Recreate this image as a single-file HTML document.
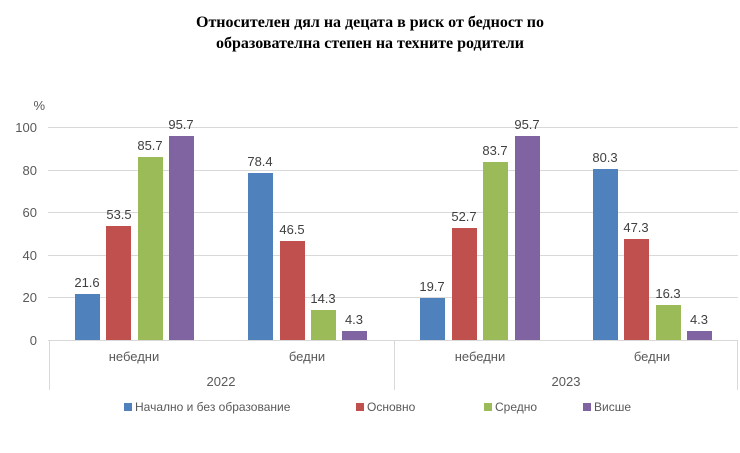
<!DOCTYPE html>
<html><head><meta charset="utf-8"><style>body{margin:0;background:#fff}svg{display:block}</style></head><body>
<svg width="740" height="453" xmlns="http://www.w3.org/2000/svg">
<rect width="740" height="453" fill="#fff"/>
<text x="370" y="27" text-anchor="middle" font-family="Liberation Serif, serif" font-weight="bold" font-size="16" fill="#000">Относителен дял на децата в риск от бедност по</text>
<text x="370" y="48" text-anchor="middle" font-family="Liberation Serif, serif" font-weight="bold" font-size="16" fill="#000">образователна степен на техните родители</text>
<g stroke="#d9d9d9" stroke-width="1">
<line x1="48" y1="127.5" x2="738" y2="127.5"/>
<line x1="48" y1="170.5" x2="738" y2="170.5"/>
<line x1="48" y1="212.5" x2="738" y2="212.5"/>
<line x1="48" y1="255.5" x2="738" y2="255.5"/>
<line x1="48" y1="297.5" x2="738" y2="297.5"/>
<line x1="48" y1="340.5" x2="738" y2="340.5"/>
<line x1="49.5" y1="340" x2="49.5" y2="390"/>
<line x1="394.5" y1="340" x2="394.5" y2="390"/>
<line x1="737.5" y1="340" x2="737.5" y2="390"/>
</g>
<g font-family="Liberation Sans, sans-serif" font-size="13" fill="#595959" text-anchor="end">
<text x="37" y="132">100</text><text x="37" y="175">80</text><text x="37" y="217">60</text>
<text x="37" y="260">40</text><text x="37" y="302">20</text><text x="37" y="345">0</text>
<text x="45" y="110">%</text>
</g>
<g>
<rect x="75" y="294" width="25" height="46" fill="#4F81BD"/>
<rect x="106" y="226" width="25" height="114" fill="#C0504D"/>
<rect x="138" y="157" width="25" height="183" fill="#9BBB59"/>
<rect x="169" y="136" width="25" height="204" fill="#8064A2"/>
<rect x="248" y="173" width="25" height="167" fill="#4F81BD"/>
<rect x="280" y="241" width="25" height="99" fill="#C0504D"/>
<rect x="311" y="310" width="25" height="30" fill="#9BBB59"/>
<rect x="342" y="331" width="25" height="9" fill="#8064A2"/>
<rect x="420" y="298" width="25" height="42" fill="#4F81BD"/>
<rect x="452" y="228" width="25" height="112" fill="#C0504D"/>
<rect x="483" y="162" width="25" height="178" fill="#9BBB59"/>
<rect x="515" y="136" width="25" height="204" fill="#8064A2"/>
<rect x="593" y="169" width="25" height="171" fill="#4F81BD"/>
<rect x="624" y="239" width="25" height="101" fill="#C0504D"/>
<rect x="656" y="305" width="25" height="35" fill="#9BBB59"/>
<rect x="687" y="331" width="25" height="9" fill="#8064A2"/>
</g>
<g font-family="Liberation Sans, sans-serif" font-size="13" fill="#404040" text-anchor="middle">
<text x="87" y="287">21.6</text><text x="119" y="219">53.5</text><text x="150" y="150">85.7</text><text x="181" y="129">95.7</text>
<text x="260" y="166">78.4</text><text x="292" y="234">46.5</text><text x="323" y="303">14.3</text><text x="354" y="324">4.3</text>
<text x="432" y="291">19.7</text><text x="464" y="221">52.7</text><text x="495" y="155">83.7</text><text x="527" y="129">95.7</text>
<text x="605" y="162">80.3</text><text x="636" y="232">47.3</text><text x="668" y="298">16.3</text><text x="699" y="324">4.3</text>
</g>
<g font-family="Liberation Sans, sans-serif" font-size="13" fill="#595959" text-anchor="middle">
<text x="134" y="361">небедни</text><text x="307" y="361">бедни</text>
<text x="480" y="361">небедни</text><text x="652" y="361">бедни</text>
<text x="221" y="386">2022</text><text x="566" y="386">2023</text>
</g>
<g font-family="Liberation Sans, sans-serif" font-size="12" fill="#595959">
<rect x="124" y="403" width="8" height="8" fill="#4F81BD"/><text x="135" y="411">Начално и без образование</text>
<rect x="356" y="403" width="8" height="8" fill="#C0504D"/><text x="367" y="411">Основно</text>
<rect x="484" y="403" width="8" height="8" fill="#9BBB59"/><text x="495" y="411">Средно</text>
<rect x="583" y="403" width="8" height="8" fill="#8064A2"/><text x="594" y="411">Висше</text>
</g>
</svg>
</body></html>
